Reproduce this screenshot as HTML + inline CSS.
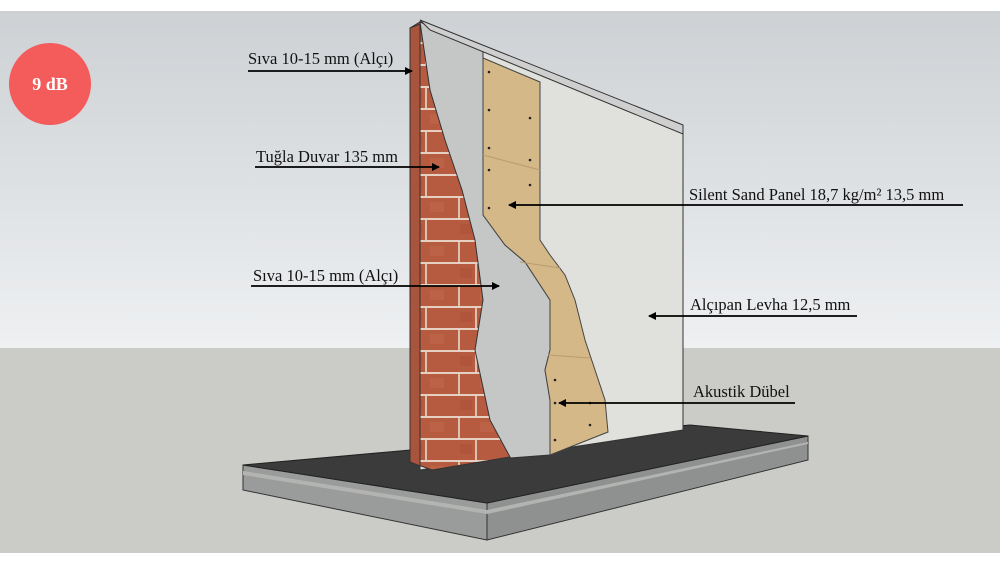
<!DOCTYPE html>
<html><head><meta charset="utf-8"><style>
html,body{margin:0;padding:0;background:#fff;}
svg{display:block;}
text{font-family:"Liberation Serif","DejaVu Serif",serif;font-size:16.5px;fill:#111;}
</style></head><body>
<svg width="1000" height="563" viewBox="0 0 1000 563" xmlns="http://www.w3.org/2000/svg">
<defs>
<linearGradient id="sky" x1="0" y1="0" x2="0" y2="1">
<stop offset="0" stop-color="#cdd1d4"/><stop offset="1" stop-color="#eef0f2"/>
</linearGradient>
<pattern id="brick" width="50" height="44" patternUnits="userSpaceOnUse">
<rect width="50" height="44" fill="#b65a40"/>
<rect x="0" y="20" width="50" height="2" fill="#e6d0c2"/>
<rect x="0" y="42" width="50" height="2" fill="#e6d0c2"/>
<rect x="25" y="0" width="2" height="20" fill="#dcc0b0"/>
<rect x="8" y="22" width="2" height="20" fill="#dcc0b0"/>
<rect x="10" y="4" width="12" height="10" fill="#a94f38" opacity="0.5"/>
<rect x="30" y="26" width="14" height="10" fill="#c26a4e" opacity="0.5"/>
</pattern>
<marker id="ah" markerWidth="8" markerHeight="8" refX="7" refY="4" orient="auto" markerUnits="userSpaceOnUse">
<path d="M0,0 L8,4 L0,8 z" fill="#000"/>
</marker>
</defs>
<rect x="0" y="11" width="1000" height="337" fill="url(#sky)"/>
<rect x="0" y="348" width="1000" height="205" fill="#cbcbc7"/>
<!-- slab -->
<polygon points="243,465 487,503 487,540 243,490" fill="#9a9c9b" stroke="#333" stroke-width="1"/>
<polygon points="487,503 808,436 808,460 487,540" fill="#8f9190" stroke="#333" stroke-width="1"/>
<polygon points="243,471 487,510 808,442 808,444 487,514 243,475" fill="#b3b3b1"/>
<polygon points="243,465 690,425 808,436 487,503" fill="#3b3b3b" stroke="#222" stroke-width="1"/>
<!-- wall -->
<polygon points="420,22 683,128 683,430 520,455 420,470" fill="#e0e0dc" stroke="#333" stroke-width="1"/>
<polygon points="420,22 483,48 483,215 505,245 525,262 550,300 550,350 545,370 550,400 550,455 510,458 480,420 470,380 480,300 470,250 460,200 440,140 430,95 420,90" fill="#c5c6c6" stroke="#333" stroke-width="1"/>
<polygon points="483,58 540,82 540,240 550,255 565,275 575,300 585,340 595,370 605,400 608,432 550,455 550,400 545,370 550,350 550,300 525,262 505,245 483,215" fill="#d5b888" stroke="#444" stroke-width="1"/>
<g stroke="#b89c70" stroke-width="1"><line x1="483" y1="155" x2="540" y2="170"/><line x1="520" y1="262" x2="560" y2="268"/><line x1="548" y1="355" x2="590" y2="358"/></g>
<g fill="#222"><circle cx="489" cy="72" r="1.3"/><circle cx="489" cy="110" r="1.3"/><circle cx="489" cy="148" r="1.3"/><circle cx="489" cy="170" r="1.3"/><circle cx="489" cy="208" r="1.3"/><circle cx="530" cy="118" r="1.3"/><circle cx="530" cy="160" r="1.3"/><circle cx="530" cy="185" r="1.3"/><circle cx="555" cy="380" r="1.3"/><circle cx="555" cy="403" r="1.3"/><circle cx="555" cy="440" r="1.3"/><circle cx="590" cy="403" r="1.3"/><circle cx="590" cy="425" r="1.3"/></g>
<polygon points="420,20 683,125 683,134 430,30" fill="#cfcfcf" stroke="#333" stroke-width="1"/>
<polygon points="410,28 420,22 430,90 445,140 462,190 475,240 483,300 475,350 490,420 510,457 432,470 410,462" fill="url(#brick)" stroke="#333" stroke-width="1"/>
<polygon points="410,28 420,24 420,466 410,462" fill="#a9543c" stroke="#333" stroke-width="1"/>
<!-- badge -->
<circle cx="50" cy="84" r="41" fill="#f45b5b"/>
<text x="50" y="90" text-anchor="middle" style="fill:#fff;font-weight:bold;font-size:18px">9 dB</text>
<!-- labels -->
<text x="248" y="64">Sıva 10-15 mm (Alçı)</text>
<line x1="248" y1="71" x2="412" y2="71" stroke="#000" stroke-width="1.8" marker-end="url(#ah)"/>
<text x="256" y="162">Tuğla Duvar 135 mm</text>
<line x1="255" y1="167" x2="439" y2="167" stroke="#000" stroke-width="1.8" marker-end="url(#ah)"/>
<text x="253" y="281">Sıva 10-15 mm (Alçı)</text>
<line x1="251" y1="286" x2="499" y2="286" stroke="#000" stroke-width="1.8" marker-end="url(#ah)"/>
<text x="689" y="200">Silent Sand Panel 18,7 kg/m² 13,5 mm</text>
<line x1="963" y1="205" x2="509" y2="205" stroke="#000" stroke-width="1.8" marker-end="url(#ah)"/>
<text x="690" y="310">Alçıpan Levha 12,5 mm</text>
<line x1="857" y1="316" x2="649" y2="316" stroke="#000" stroke-width="1.8" marker-end="url(#ah)"/>
<text x="693" y="397">Akustik Dübel</text>
<line x1="795" y1="403" x2="559" y2="403" stroke="#000" stroke-width="1.8" marker-end="url(#ah)"/>
</svg>
</body></html>
